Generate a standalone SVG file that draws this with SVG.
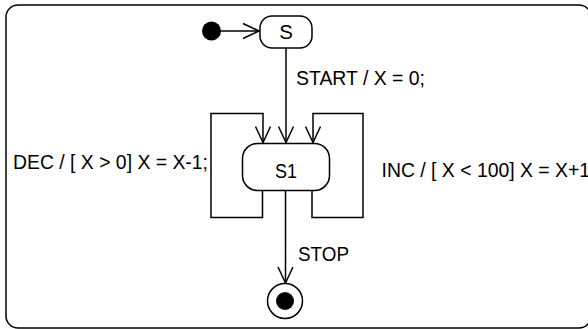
<svg xmlns="http://www.w3.org/2000/svg" width="588" height="329" viewBox="0 0 588 329">
<style>
.ln{fill:none;stroke:#000;stroke-width:1.5}
.st{fill:#fff;stroke:#000;stroke-width:1.5}
.tx{font-family:"Liberation Sans",Arial,sans-serif;font-size:20.5px;fill:#000}
</style>
<defs>
<marker id="v" markerUnits="userSpaceOnUse" markerWidth="20" markerHeight="20" refX="0" refY="0" viewBox="-17 -10 20 20" orient="auto" overflow="visible">
<path d="M-16,-7.5 L0,0 L-16,7.5" fill="none" stroke="#000" stroke-width="1.5"/>
</marker>
</defs>
<rect width="588" height="329" fill="#fff"/>
<g id="frame"><rect x="6" y="5" width="585" height="323" rx="12" class="ln"/></g>
<g id="connectors">
<line x1="220" y1="31" x2="259" y2="31" class="ln" marker-end="url(#v)"/>
<line x1="286" y1="48" x2="286" y2="142.5" class="ln" marker-end="url(#v)"/>
<path d="M262.5,190.5 V217.5 H211 V113.5 H263 V142.5" class="ln" marker-end="url(#v)"/>
<path d="M312,190.5 V217.5 H363 V113.5 H313 V142.5" class="ln" marker-end="url(#v)"/>
<line x1="285.5" y1="190.5" x2="285.5" y2="283" class="ln" marker-end="url(#v)"/>
<text x="296" y="85" class="tx" textLength="129" lengthAdjust="spacingAndGlyphs">START / X = 0;</text>
<text x="13" y="169.3" class="tx" textLength="195" lengthAdjust="spacingAndGlyphs">DEC / [ X &gt; 0] X = X-1;</text>
<text x="381.5" y="176.7" class="tx" textLength="214" lengthAdjust="spacingAndGlyphs">INC / [ X &lt; 100] X = X+1;</text>
<text x="298" y="260.7" class="tx" textLength="51" lengthAdjust="spacingAndGlyphs">STOP</text>
</g>
<g id="init"><circle cx="211.5" cy="31" r="9.5" fill="#000"/></g>
<g id="S">
<rect x="260" y="16" width="52" height="32" rx="12" class="st"/>
<text x="286" y="38.5" text-anchor="middle" class="tx">S</text>
</g>
<g id="S1">
<rect x="242.5" y="143.5" width="87" height="47" rx="15" class="st"/>
<text x="286" y="178" text-anchor="middle" class="tx" textLength="22" lengthAdjust="spacingAndGlyphs">S1</text>
</g>
<g id="final">
<circle cx="285" cy="301" r="17.5" class="st"/>
<circle cx="285" cy="301" r="9" fill="#000"/>
</g>
</svg>
